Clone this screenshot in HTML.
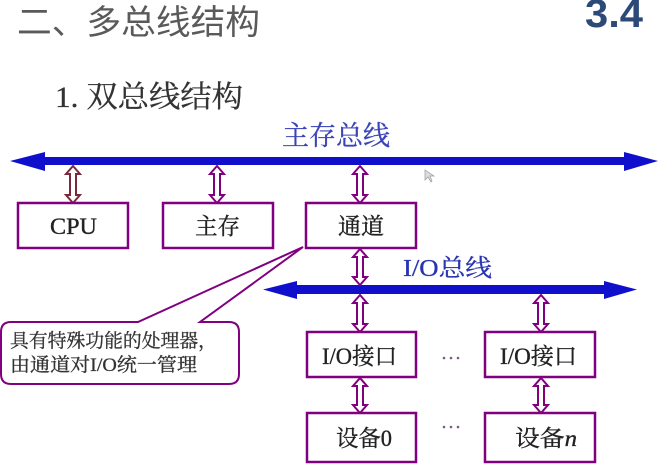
<!DOCTYPE html>
<html><head><meta charset="utf-8">
<style>
html,body{margin:0;padding:0;background:#fff;}
svg{display:block;}
.serif{font-family:"Liberation Serif","Noto Serif CJK SC",serif;}
.sans{font-family:"Liberation Sans","Noto Sans CJK SC",sans-serif;}
</style></head>
<body>
<svg width="660" height="472" viewBox="0 0 660 472" xmlns="http://www.w3.org/2000/svg">
<rect width="660" height="472" fill="#fff"/>

<!-- Titles -->
<text x="17" y="34" class="sans" font-size="34" fill="#5a5a5a" textLength="243" lengthAdjust="spacingAndGlyphs">二、多总线结构</text>
<text x="585" y="27" font-family="Liberation Sans, sans-serif" font-weight="bold" font-size="40" fill="#2c4a78" textLength="58" lengthAdjust="spacingAndGlyphs">3.4</text>
<text x="55" y="107" class="serif" font-size="30" fill="#333" stroke="#333" stroke-width="0.3" textLength="188" lengthAdjust="spacingAndGlyphs">1. 双总线结构</text>

<!-- Main bus -->
<text x="282" y="145" class="serif" font-size="27" fill="#3a44b8" stroke="#3a44b8" stroke-width="0.3" textLength="108" lengthAdjust="spacingAndGlyphs">主存总线</text>
<polygon points="10,161 45,152 45,157 624,157 624,152 658,161 624,171 624,165 45,165 45,171" fill="#1010cc"/>

<!-- I/O bus -->
<text x="403" y="276" class="serif" font-size="24" fill="#2a34b0" stroke="#2a34b0" stroke-width="0.3" textLength="89" lengthAdjust="spacingAndGlyphs">I/O总线</text>
<polygon points="263,289.5 297,281 297,285 604,285 604,281 637,289.5 604,299 604,294 297,294 297,299" fill="#1010cc"/>

<!-- double arrows -->
<g fill="#fff" stroke="#800080" stroke-width="2" stroke-linejoin="miter">
  <polygon stroke="#7a2a3c" points="73,166 80,174 76,174 76,195 80,195 73,203 66,195 70,195 70,174 66,174"/>
  <polygon points="217,166 224,174 220,174 220,195 224,195 217,203 210,195 214,195 214,174 210,174"/>
  <polygon points="360,166 367,174 363,174 363,195 367,195 360,203 353,195 357,195 357,174 353,174"/>
  <polygon points="360,249 367,257 363,257 363,277 367,277 360,285 353,277 357,277 357,257 353,257"/>
  <polygon points="360,295 367,303 363,303 363,324 367,324 360,332 353,324 357,324 357,303 353,303"/>
  <polygon points="541,295 548,303 544,303 544,324 548,324 541,332 534,324 538,324 538,303 534,303"/>
  <polygon points="360,378 367,386 363,386 363,405 367,405 360,413 353,405 357,405 357,386 353,386"/>
  <polygon points="541,378 548,386 544,386 544,405 548,405 541,413 534,405 538,405 538,386 534,386"/>
</g>

<!-- boxes -->
<g fill="#fff" stroke="#800080" stroke-width="2.5">
  <rect x="18" y="203" width="110" height="45"/>
  <rect x="163" y="203" width="110" height="45"/>
  <rect x="306" y="203" width="110" height="45"/>
  <rect x="307" y="332" width="109" height="45"/>
  <rect x="485" y="332" width="110" height="45"/>
  <rect x="307" y="413" width="109" height="49"/>
  <rect x="485" y="413" width="110" height="49"/>
</g>
<g class="serif" font-size="23" fill="#222" stroke="#222" stroke-width="0.35">
  <text x="50" y="234" textLength="47" lengthAdjust="spacingAndGlyphs">CPU</text>
  <text x="195" y="234" textLength="45" lengthAdjust="spacingAndGlyphs">主存</text>
  <text x="338" y="234" textLength="46" lengthAdjust="spacingAndGlyphs">通道</text>
  <text x="322" y="364" textLength="75" lengthAdjust="spacingAndGlyphs">I/O接口</text>
  <text x="500" y="364" textLength="77" lengthAdjust="spacingAndGlyphs">I/O接口</text>
  <text x="336" y="446" textLength="56" lengthAdjust="spacingAndGlyphs">设备0</text>
  <text x="515" y="446" textLength="62" lengthAdjust="spacingAndGlyphs">设备<tspan font-style="italic">n</tspan></text>
</g>

<!-- dots -->
<g fill="#7a5a8a">
  <circle cx="444" cy="358" r="1.3"/><circle cx="451" cy="358" r="1.3"/><circle cx="458" cy="358" r="1.3"/>
  <circle cx="444" cy="427" r="1.3"/><circle cx="451" cy="427" r="1.3"/><circle cx="458" cy="427" r="1.3"/>
</g>

<!-- callout -->
<path d="M 11,322 L 138,322 L 303,247 L 200,322 L 229,322 Q 239,322 239,332 L 239,374 Q 239,384 229,384 L 11,384 Q 1,384 1,374 L 1,332 Q 1,322 11,322 Z" fill="#fff" stroke="#800080" stroke-width="2"/>
<text x="10" y="347" class="serif" font-size="19" fill="#333" stroke="#333" stroke-width="0.3" textLength="207" lengthAdjust="spacingAndGlyphs">具有特殊功能的处理器，</text>
<text x="10" y="371" class="serif" font-size="19" fill="#333" stroke="#333" stroke-width="0.3" textLength="187" lengthAdjust="spacingAndGlyphs">由通道对I/O统一管理</text>

<!-- cursor -->
<polygon points="425,170 425,180 428,177 431,182 432,181 430,176 434,176" fill="#ddd" stroke="#999" stroke-width="0.7"/>
</svg>
</body></html>
